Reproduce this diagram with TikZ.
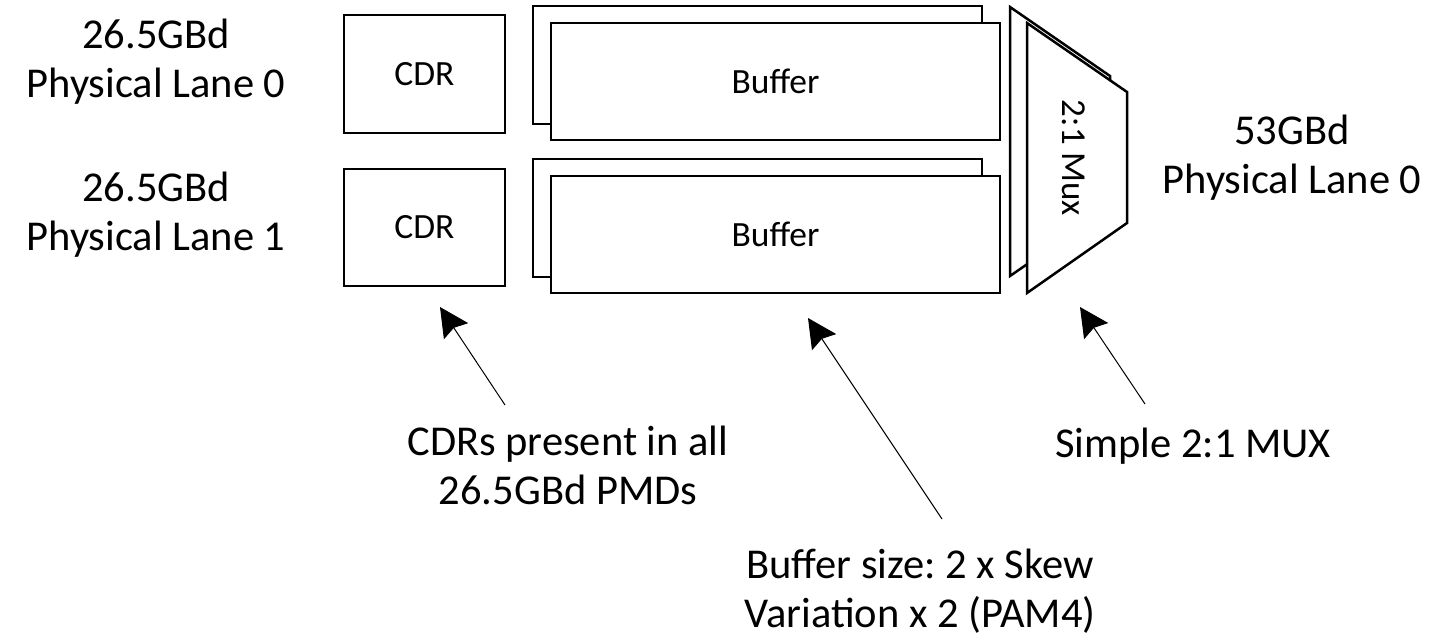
\documentclass[tikz,border=0pt]{standalone}
\usepackage{fontspec}
\setmainfont{Carlito}
\usetikzlibrary{arrows.meta}
\frenchspacing
\begin{document}
\begin{tikzpicture}[x=1pt,y=-1pt,
  blk/.style={draw=black, line width=2.5pt, fill=white, rectangle, inner sep=0pt, font=\fontsize{35.5}{42}\selectfont},
  lbl/.style={align=center, font=\fontsize{42.5}{48.5}\selectfont, inner sep=0pt, anchor=base},
  ptr/.style={line width=1pt, -{Stealth[length=29pt,width=29pt,inset=4pt]}},
  muxshape/.style={draw=black, line width=2.5pt, fill=white, line join=miter},
]
\useasboundingbox (0,0) rectangle (1440,642);

% CDR blocks
\node[blk, minimum width=161pt, minimum height=118pt] (cdr0) at (424.5,74) {CDR};
\node[blk, minimum width=161pt, minimum height=117pt] (cdr1) at (424.5,227.5) {CDR};

% Buffers (back then front)
\node[blk, minimum width=449pt, minimum height=118pt] (buf0b) at (757.5,65) {};
\node[blk, minimum width=449pt, minimum height=117pt] (buf0) at (775.5,81.5) {Buffer};
\node[blk, minimum width=449pt, minimum height=118pt] (buf1b) at (757.5,218) {};
\node[blk, minimum width=449pt, minimum height=117pt] (buf1) at (775.5,234.5) {Buffer};

% Mux (back then front)
\draw[muxshape] (1010,7) -- (1110,76) -- (1110,207) -- (1010,276) -- cycle;
\draw[muxshape] (1027,23) -- (1127,92) -- (1127,223) -- (1027,293) -- cycle;
\node[font=\fontsize{35}{42}\selectfont, rotate=-90, inner sep=0pt] (mux) at (1074,158) {2:1 Mux};

% Lane labels (anchor = baseline of last line)
\node[lbl] (in0) at (156,97) {26.5GBd\\Physical Lane 0};
\node[lbl] (in1) at (156,250) {26.5GBd\\Physical Lane 1};
\node[lbl] (out0) at (1292,193) {53GBd\\Physical Lane 0};

% Annotations
\node[lbl] (ncdr) at (568,504) {CDRs present in all\\26.5GBd PMDs};
\node[lbl] (nbuf) at (920,627) {Buffer size: 2 x Skew\\Variation x 2 (PAM4)};
\node[lbl] (nmux) at (1193,457) {Simple 2:1 MUX};

% Pointer coordinates
\coordinate (t1) at (505,405);
\coordinate (h1) at (440,307);
\coordinate (t2) at (942,519);
\coordinate (h2) at (808,318);
\coordinate (t3) at (1145,404);
\coordinate (h3) at (1080,307);

\draw[ptr] (t1) -- (h1);
\draw[ptr] (t2) -- (h2);
\draw[ptr] (t3) -- (h3);
\end{tikzpicture}
\end{document}
